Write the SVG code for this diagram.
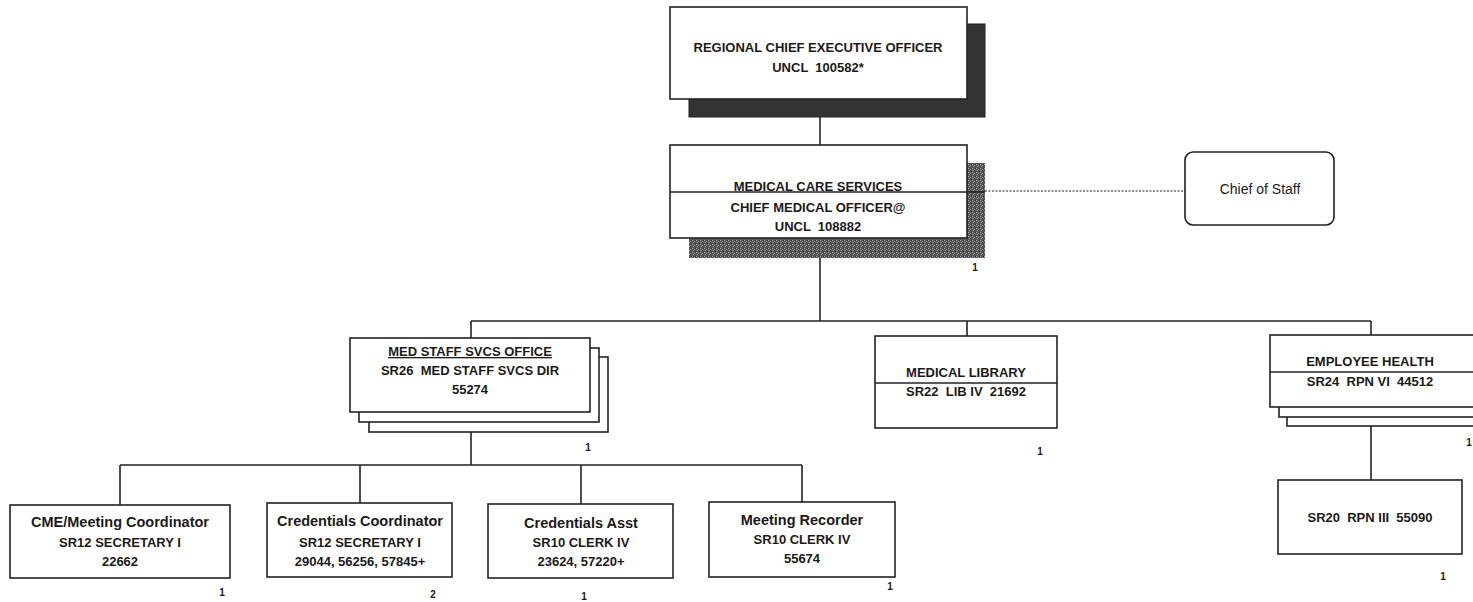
<svg xmlns="http://www.w3.org/2000/svg" width="1473" height="602" viewBox="0 0 1473 602">
<defs>
<pattern id="dither" width="4" height="4" patternUnits="userSpaceOnUse">
<rect width="4" height="4" fill="#555"/>
<rect x="0" y="0" width="1" height="1" fill="#b0b0b0"/>
<rect x="2" y="1" width="1" height="1" fill="#a0a0a0"/>
<rect x="1" y="2" width="1" height="1" fill="#9a9a9a"/>
<rect x="3" y="0" width="1" height="1" fill="#333"/>
</pattern>
</defs>
<style>
.box{fill:#fff;stroke:#222;stroke-width:1.6}
.ln{stroke:#222;stroke-width:1.6;fill:none}
.t{font-family:"Liberation Sans",Arial,sans-serif;font-weight:bold;font-size:13px;fill:#1a1a1a;text-anchor:middle;white-space:pre}
.m{font-size:14.5px}
.r{font-weight:normal;font-size:14px}
.n{font-family:"Liberation Sans",Arial,sans-serif;font-weight:bold;font-size:10px;fill:#1a1a1a;text-anchor:middle}
</style>
<rect width="1473" height="602" fill="#fff"/>
<g id="connectors">
<line class="ln" x1="820" y1="117" x2="820" y2="145"/>
<line class="ln" x1="820" y1="258" x2="820" y2="321"/>
<line class="ln" x1="471" y1="321" x2="1371" y2="321"/>
<line class="ln" x1="471" y1="321" x2="471" y2="338"/>
<line class="ln" x1="967" y1="321" x2="967" y2="336"/>
<line class="ln" x1="1371" y1="321" x2="1371" y2="335"/>
<line class="ln" x1="471" y1="412" x2="471" y2="465"/>
<line class="ln" x1="120" y1="465" x2="802" y2="465"/>
<line class="ln" x1="120" y1="465" x2="120" y2="505"/>
<line class="ln" x1="360" y1="465" x2="360" y2="503"/>
<line class="ln" x1="581" y1="465" x2="581" y2="504"/>
<line class="ln" x1="802" y1="465" x2="802" y2="502"/>
<line class="ln" x1="1371" y1="407" x2="1371" y2="480"/>
<line stroke="#222" stroke-width="1.2" stroke-dasharray="2 1.5" x1="985" y1="191" x2="1185" y2="191"/>
</g>
<g id="rceo">
<rect x="689" y="24" width="296" height="93" fill="#333" stroke="#222"/>
<rect class="box" x="670" y="7" width="297" height="92"/>
<text class="t" x="818" y="52">REGIONAL CHIEF EXECUTIVE OFFICER</text>
<text class="t" x="818" y="72">UNCL  100582*</text>
</g>
<g id="cmo">
<rect x="689" y="163" width="296" height="95" fill="url(#dither)"/>
<rect class="box" x="670" y="145" width="297" height="93"/>
<line class="ln" x1="670" y1="192" x2="985" y2="192" stroke-width="1.2"/>
<text class="t" x="818" y="191">MEDICAL CARE SERVICES</text>
<text class="t" x="818" y="212">CHIEF MEDICAL OFFICER@</text>
<text class="t" x="818" y="231">UNCL  108882</text>
<text class="n" x="975" y="271">1</text>
</g>
<g id="cos">
<rect class="box" x="1185" y="152" width="149" height="73" rx="8"/>
<text class="t r" x="1260" y="194">Chief of Staff</text>
</g>
<g id="medstaff">
<rect class="box" x="369" y="357" width="239" height="75"/>
<rect class="box" x="359" y="348" width="240" height="74"/>
<rect class="box" x="350" y="338" width="240" height="74"/>
<text class="t" x="470" y="356" text-decoration="underline">MED STAFF SVCS OFFICE</text>
<text class="t" x="470" y="375">SR26  MED STAFF SVCS DIR</text>
<text class="t" x="470" y="394">55274</text>
<text class="n" x="588" y="451">1</text>
</g>
<g id="library">
<rect class="box" x="875" y="336" width="182" height="92"/>
<line class="ln" x1="875" y1="383" x2="1057" y2="383" stroke-width="1.2"/>
<text class="t" x="966" y="377">MEDICAL LIBRARY</text>
<text class="t" x="966" y="396">SR22  LIB IV  21692</text>
<text class="n" x="1040" y="455">1</text>
</g>
<g id="emphealth">
<rect class="box" x="1287" y="355" width="200" height="71"/>
<rect class="box" x="1279" y="345" width="200" height="72"/>
<rect class="box" x="1270" y="335" width="210" height="72"/>
<line class="ln" x1="1270" y1="372" x2="1473" y2="372" stroke-width="1.2"/>
<text class="t" x="1370" y="366">EMPLOYEE HEALTH</text>
<text class="t" x="1370" y="386">SR24  RPN VI  44512</text>
<text class="n" x="1469" y="446">1</text>
</g>
<g id="cme">
<rect class="box" x="10" y="505" width="220" height="73"/>
<text class="t m" x="120" y="527">CME/Meeting Coordinator</text>
<text class="t" x="120" y="547">SR12 SECRETARY I</text>
<text class="t" x="120" y="566">22662</text>
<text class="n" x="222" y="596">1</text>
</g>
<g id="credcoord">
<rect class="box" x="267" y="503" width="185" height="74"/>
<text class="t m" x="360" y="526">Credentials Coordinator</text>
<text class="t" x="360" y="547">SR12 SECRETARY I</text>
<text class="t" x="360" y="566">29044, 56256, 57845+</text>
<text class="n" x="433" y="598">2</text>
</g>
<g id="credasst">
<rect class="box" x="488" y="504" width="185" height="74"/>
<text class="t m" x="581" y="528">Credentials Asst</text>
<text class="t" x="581" y="547">SR10 CLERK IV</text>
<text class="t" x="581" y="566">23624, 57220+</text>
<text class="n" x="584" y="600">1</text>
</g>
<g id="meetrec">
<rect class="box" x="709" y="502" width="186" height="75"/>
<text class="t m" x="802" y="525">Meeting Recorder</text>
<text class="t" x="802" y="544">SR10 CLERK IV</text>
<text class="t" x="802" y="563">55674</text>
<text class="n" x="890" y="590">1</text>
</g>
<g id="rpn3">
<rect class="box" x="1278" y="480" width="184" height="74"/>
<text class="t" x="1370" y="522">SR20  RPN III  55090</text>
<text class="n" x="1443" y="580">1</text>
</g>
</svg>
